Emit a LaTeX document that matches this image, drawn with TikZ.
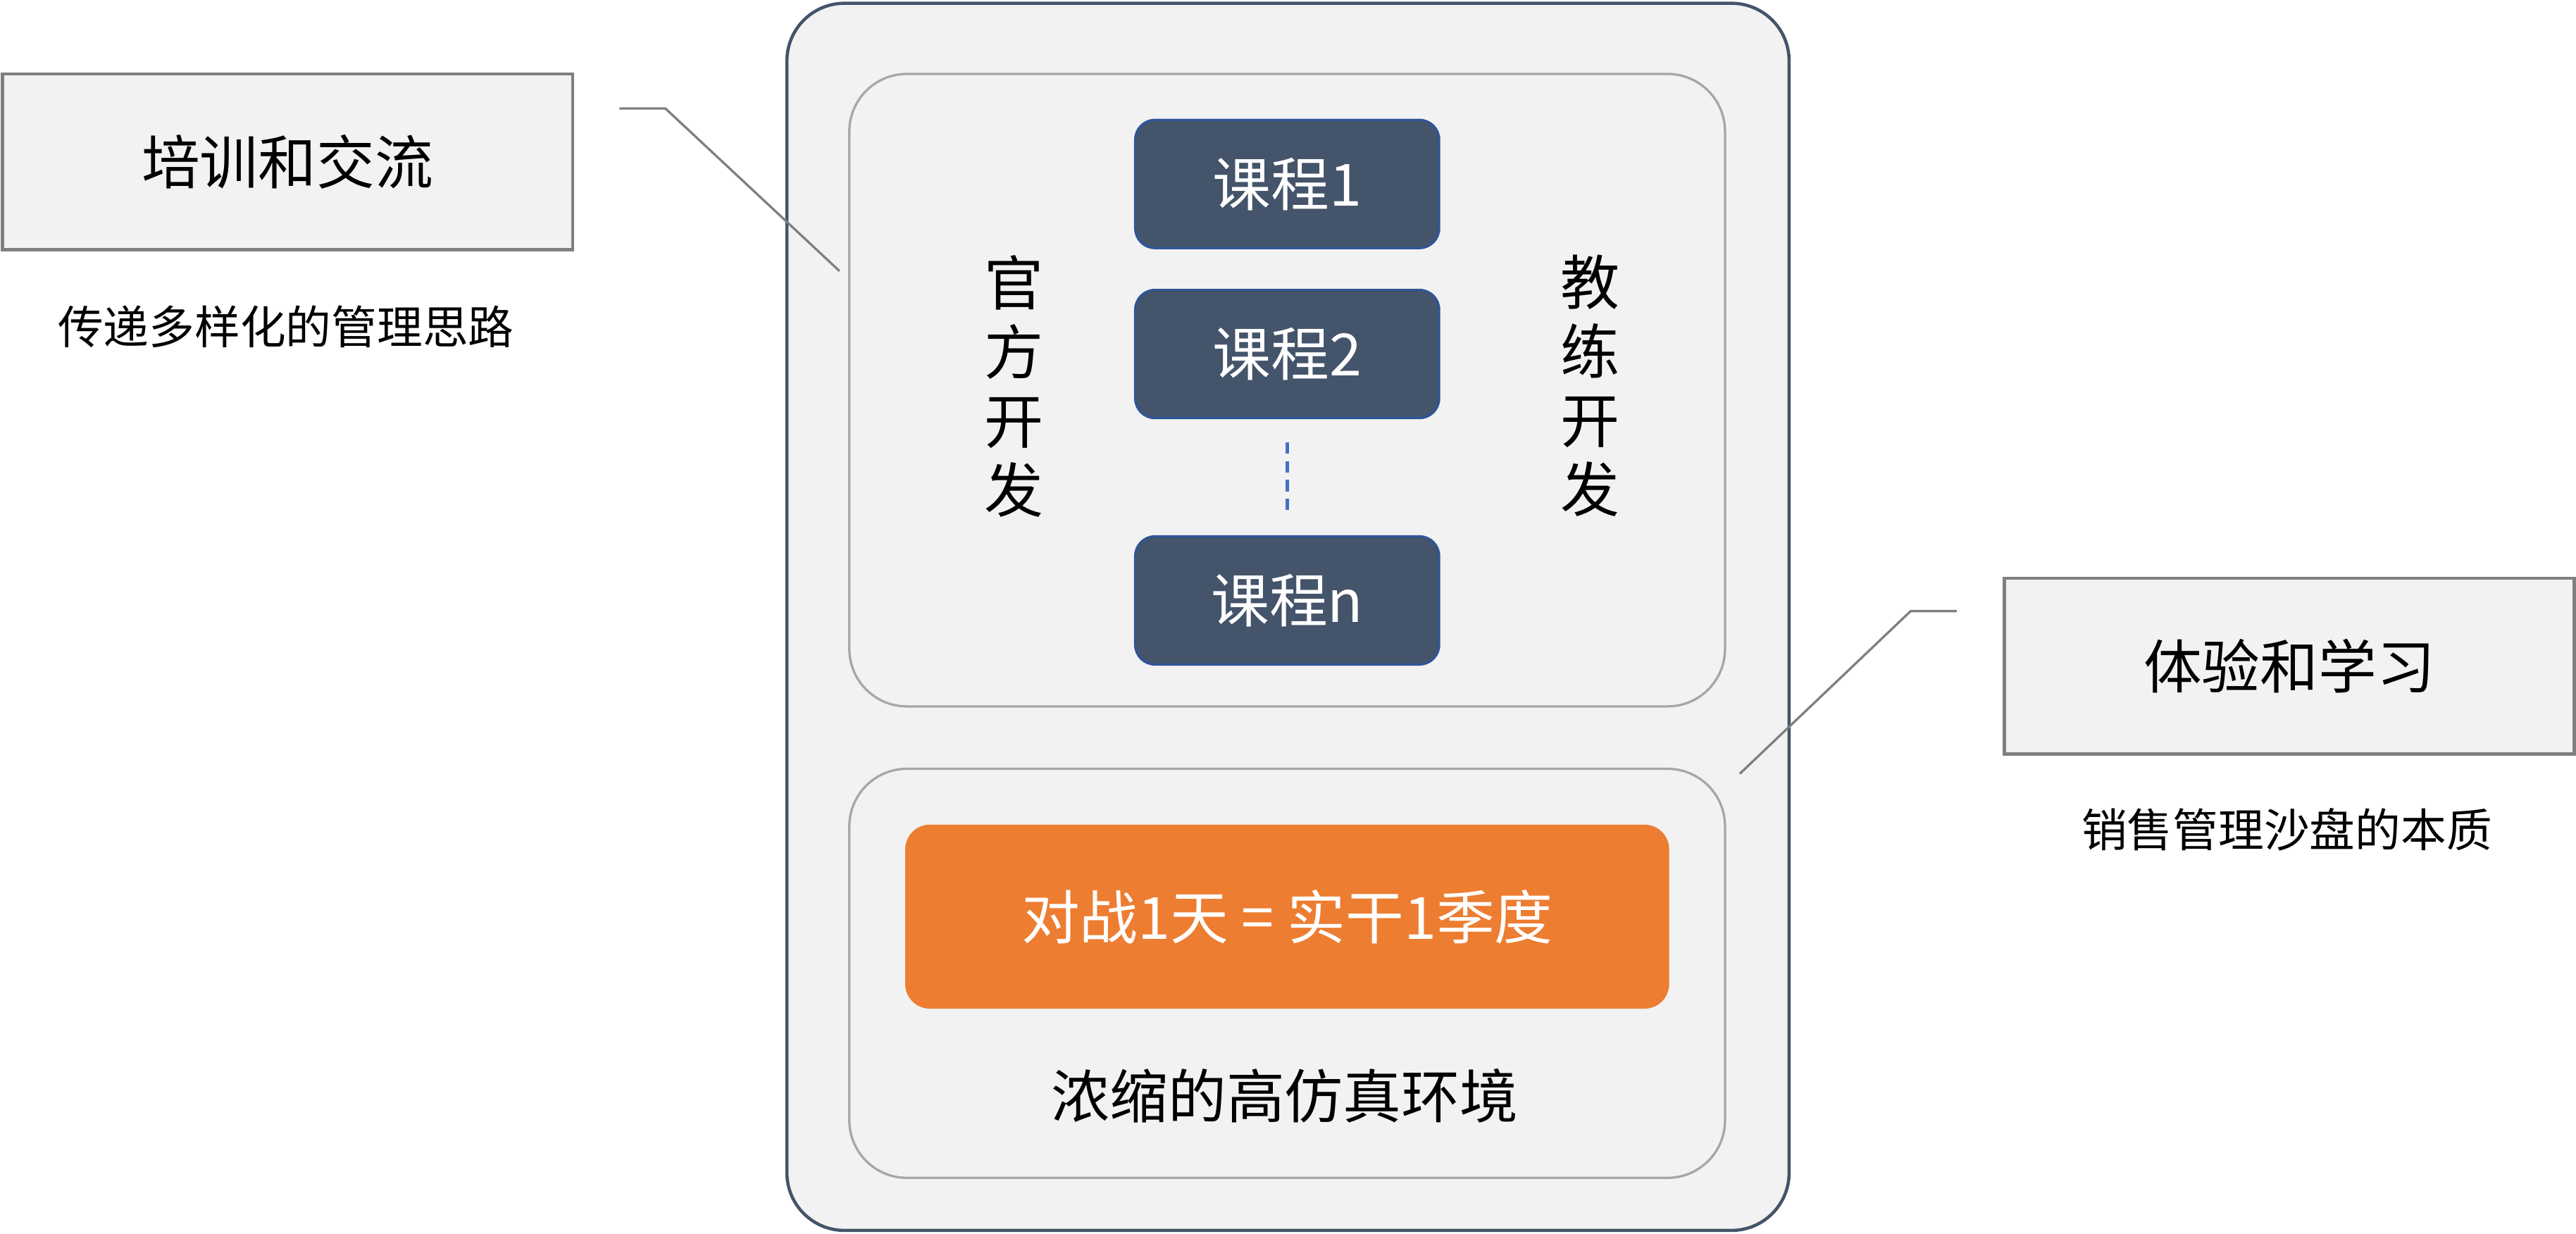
\documentclass[tikz,border=0pt]{standalone}
\usepackage{fontspec}
\setmainfont{Noto Sans CJK SC}
\definecolor{slate}{HTML}{44546A}
\definecolor{pale}{HTML}{F2F2F2}
\definecolor{midgray}{HTML}{A6A6A6}
\definecolor{darkgray}{HTML}{7F7F7F}
\definecolor{edgeblue}{HTML}{2F5597}
\definecolor{dotblue}{HTML}{4472C4}
\definecolor{tangerine}{HTML}{ED7D31}
\tikzset{
  bigfont/.style={font=\fontsize{20.2pt}{24pt}\selectfont},
  smallfont/.style={font=\fontsize{15.8pt}{19pt}\selectfont},
  outerbox/.style={draw=slate,fill=pale,line width=1.1pt,rounded corners=7mm,inner sep=0pt},
  groupbox/.style={draw=midgray,fill=pale,line width=0.8pt,rounded corners=7mm,inner sep=0pt},
  coursebox/.style={draw=edgeblue,fill=slate,line width=0.8pt,rounded corners=2.4mm,minimum width=37mm,minimum height=15.6mm,text=white,bigfont},
  labelbox/.style={draw=darkgray,fill=pale,line width=1.1pt,minimum width=69.4mm,minimum height=21.4mm,bigfont},
  callout/.style={draw=darkgray,line width=0.8pt}
}
\begin{document}
\begin{tikzpicture}[x=0.2mm,y=-0.2mm]
        \useasboundingbox (0,0) rectangle (1568,751);
        \node[outerbox,minimum width=122mm,minimum height=149.4mm] (outer) at (784,375.5) {};
        \node[groupbox,minimum width=106.6mm,minimum height=77mm] (top) at (783.5,237.5) {};
        \node[groupbox,minimum width=106.6mm,minimum height=49.8mm] (bottom) at (783.5,592.5) {};
        \node[coursebox] (c1) at (783.5,112) {课程1};
        \node[coursebox] (c2) at (783.5,215.5) {课程2};
        \node[coursebox] (cn) at (783.5,365.5) {课程n};
        \draw[dotblue,line width=1.1pt,dash pattern=on 4pt off 2.5pt,shorten <=2.8mm,shorten >=3mm] (c2.south) -- (cn.north);
        \node[font=\fontsize{20.5pt}{8.4mm}\selectfont,align=center] (official) at (617,235) {官\\方\\开\\发};
        \node[font=\fontsize{20.5pt}{8.4mm}\selectfont,align=center] (coach) at (968,235) {教\\练\\开\\发};
        \node[fill=tangerine,rounded corners=3mm,minimum width=93mm,minimum height=22.4mm,text=white,bigfont] (battle) at (783.5,558) {对战1天 = 实干1季度};
        \node[bigfont] (sim) at (782,667) {浓缩的高仿真环境};
        \node[labelbox] (train) at (175,98.5) {培训和交流};
        \node[smallfont] (trainsub) at (174,199) {传递多样化的管理思路};
        \node[labelbox] (learn) at (1393.5,405.5) {体验和学习};
        \node[smallfont] (learnsub) at (1392,505) {销售管理沙盘的本质};
        \coordinate (t1) at (377,66);
        \coordinate (t2) at (405,66);
        \coordinate (t3) at (511,165);
        \coordinate (l1) at (1191,372);
        \coordinate (l2) at (1163,372);
        \coordinate (l3) at (1059,471);
        \draw[callout] (t1)--(t2)--(t3);
        \draw[callout] (l1)--(l2)--(l3);
    \end{tikzpicture}
\end{document}
